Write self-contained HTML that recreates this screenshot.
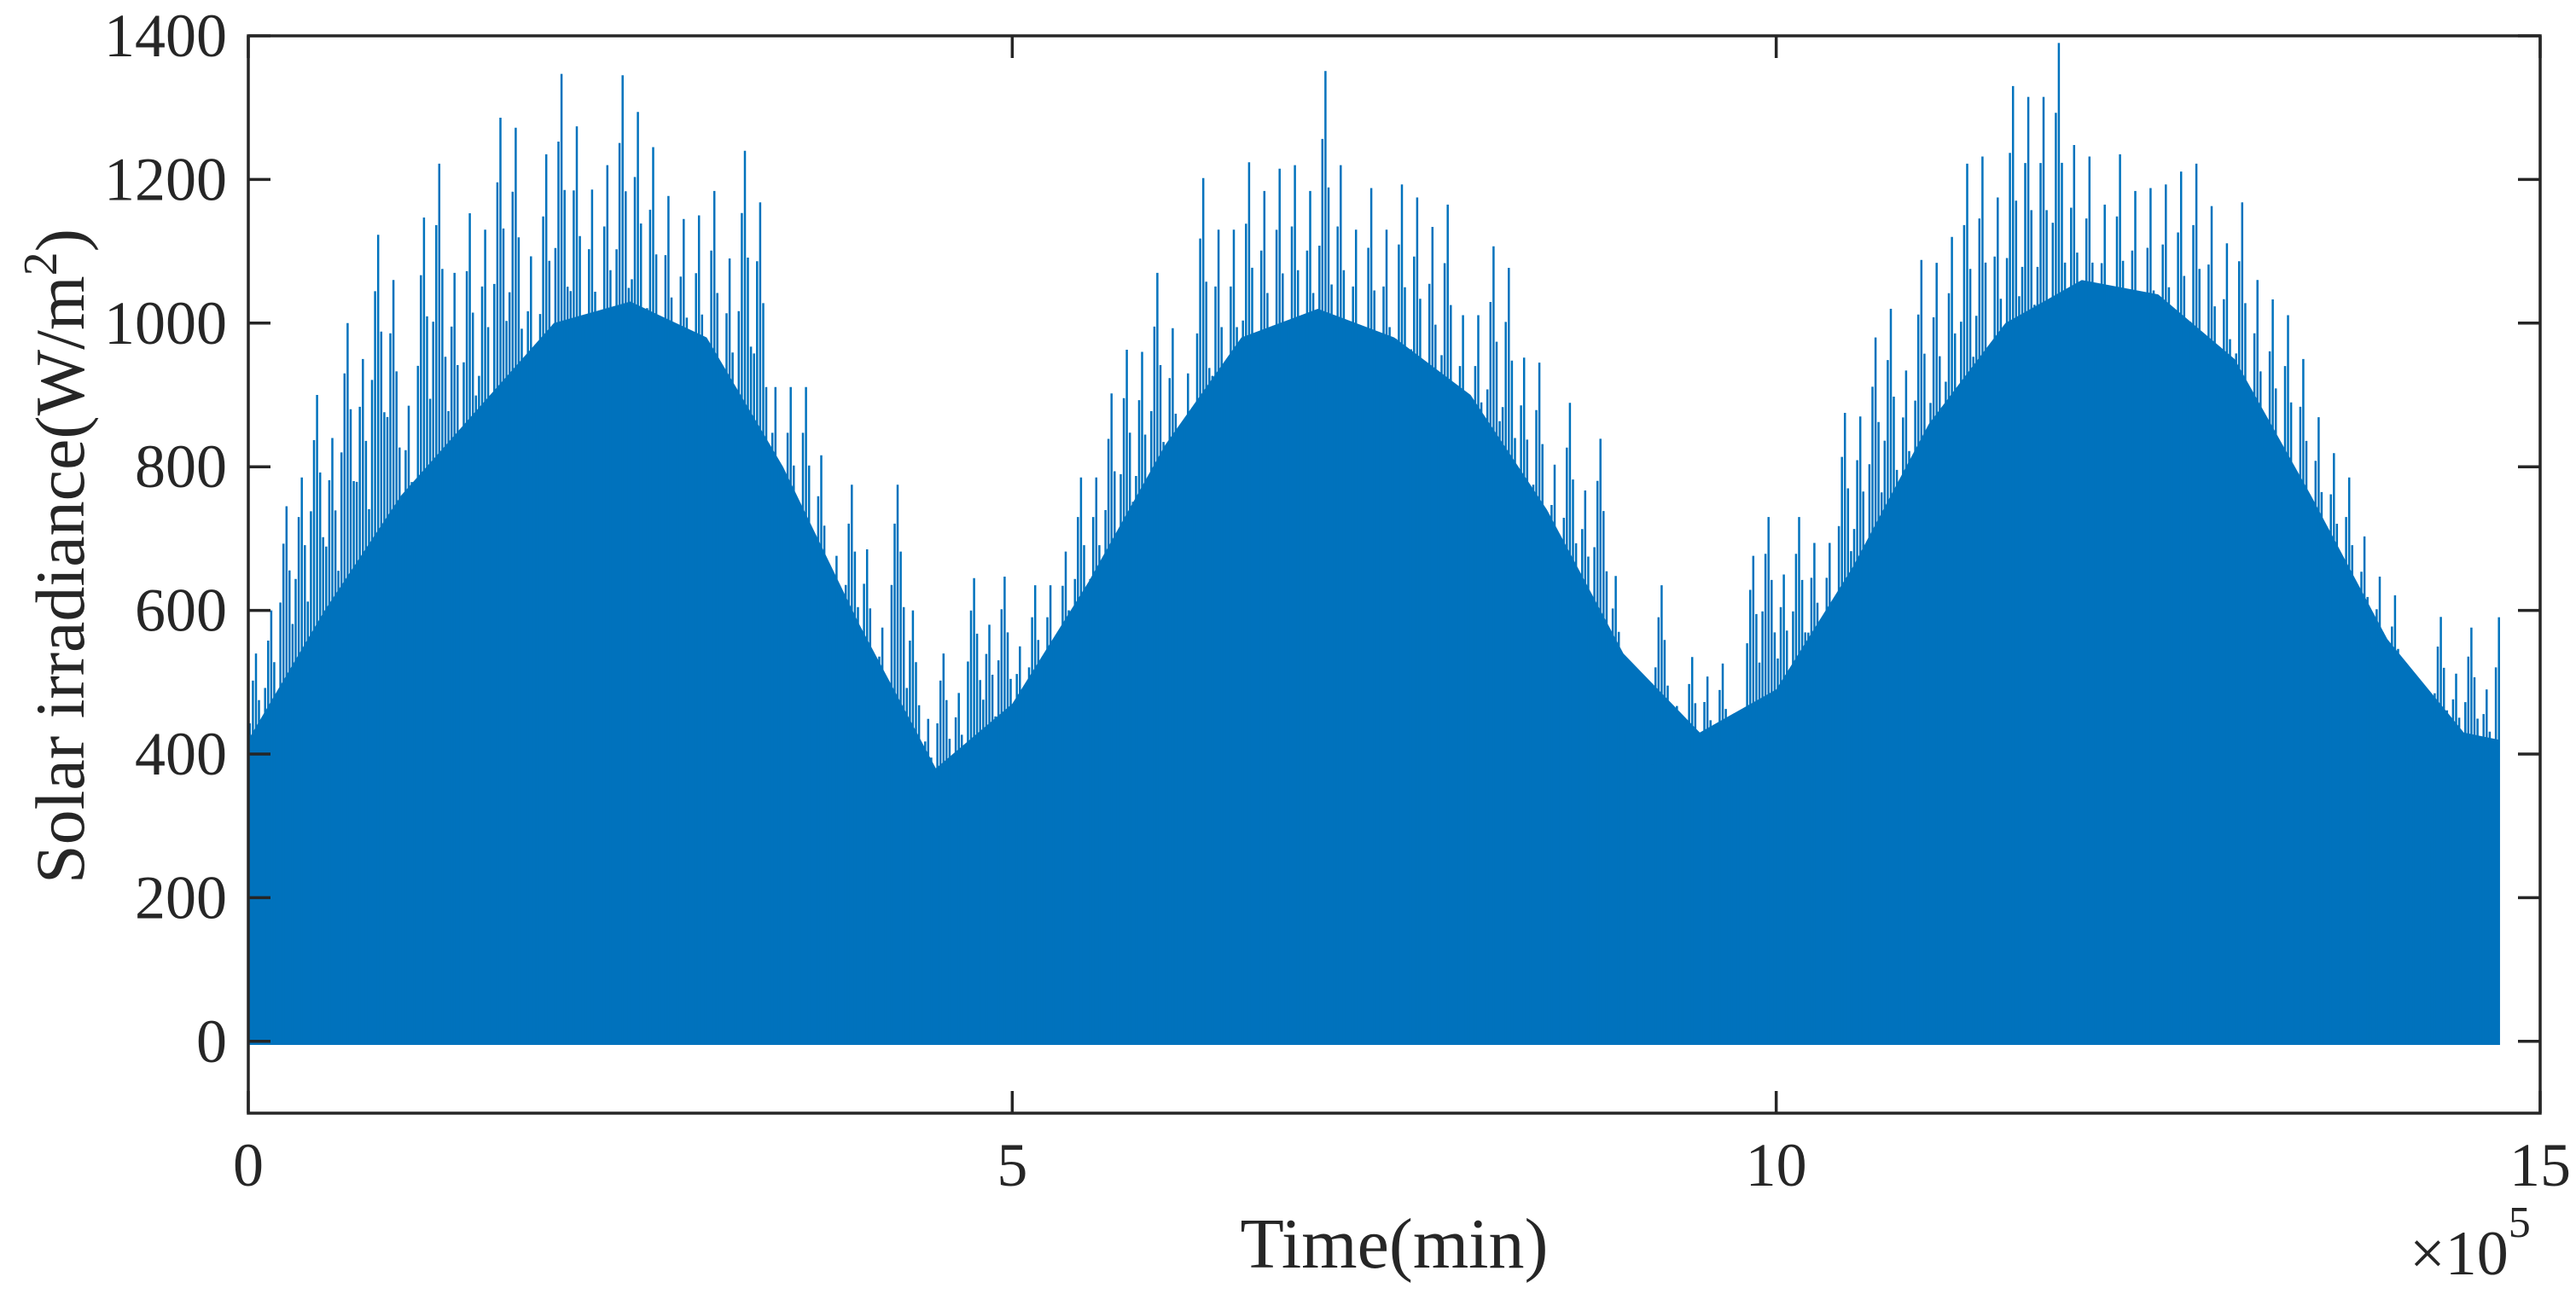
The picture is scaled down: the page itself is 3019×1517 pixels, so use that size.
<!DOCTYPE html>
<html><head><meta charset="utf-8"><style>
html,body{margin:0;padding:0;background:#fff;}
svg{display:block;font-family:"Liberation Serif","Times New Roman",serif;}
</style></head><body>
<svg id="chart" width="3019" height="1517" viewBox="0 0 3019 1517" xmlns="http://www.w3.org/2000/svg">
<rect x="0" y="0" width="3019" height="1517" fill="#fff"/>
<g id="series"></g>
<g id="axes"></g>
<text x="1634" y="1486" text-anchor="middle" font-size="84" fill="#262626">Time(min)</text>
<text transform="translate(98,652) rotate(-90)" text-anchor="middle" font-size="82" fill="#262626">Solar irradiance(W/m<tspan dy="-32" font-size="56">2</tspan><tspan dy="32">)</tspan></text>
<text x="2824" y="1494" font-size="74" fill="#262626">×10<tspan dy="-44" font-size="52">5</tspan></text>
</svg>
<script>
// x in units of 1e5 minutes; peaks per 0.1e5 bin
const xTicks = [0, 5, 10, 15];
const xTickLabels = ["0", "5", "10", "15"];
const yTicks = [0, 200, 400, 600, 800, 1000, 1200, 1400];
const yTickLabels = ["0", "200", "400", "600", "800", "1000", "1200", "1400"];
const binWidth = 0.1;
const peakValues = [540,600,745,785,900,840,1000,950,1123,1060,
 885,1147,1222,1070,1153,1130,1286,1272,1093,1235,
 1347,1274,1186,1220,1345,1294,1245,1177,1145,1150,
 1184,1090,1240,1168,911,911,911,816,676,775,
 685,576,775,600,449,540,485,645,580,647,
 550,635,635,682,785,785,902,963,960,1070,
 993,930,1202,1130,1130,1224,1184,1215,1220,1184,
 1351,1220,1130,1188,1130,1193,1175,1134,1165,1011,
 1011,1107,1077,952,945,803,889,767,839,648,
 521,494,635,467,535,508,526,440,676,730,
 650,730,694,694,875,870,980,1020,934,1088,
 1084,1120,1222,1232,1175,1330,1315,1315,1390,1248,
 1232,1165,1235,1184,1188,1193,1211,1222,1163,1111,
 1168,1060,1033,1011,950,869,819,785,703,647,
 621,458,358,591,512,576,490,635];
const envTimes = [0,0.5,1,1.5,2,2.5,3,3.5,4,4.5,5,5.5,6,6.5,7,7.5,8,8.5,9,9.5,10,10.5,11,11.5,12,12.5,13,13.5,14,14.5,14.73];
const envValues = [420,600,760,880,1000,1030,980,800,580,380,470,640,830,980,1020,980,900,740,540,430,490,660,860,1000,1060,1040,950,760,560,430,420];
const dataEnd = 14.73;

const L = 291, R = 2977, T = 42, B = 1305;
const xMin = 0, xMax = 15, yMin = -100, yMax = 1400;
function xs(v){ return L + (v - xMin) / (xMax - xMin) * (R - L); }
function ys(v){ return B - (v - yMin) / (yMax - yMin) * (B - T); }
const NS = "http://www.w3.org/2000/svg";
function mk(tag, attrs, parent){
  const e = document.createElementNS(NS, tag);
  for (const k in attrs) e.setAttribute(k, attrs[k]);
  parent.appendChild(e); return e;
}
const series = document.getElementById('series');
const axes = document.getElementById('axes');
const blue = "#0072BD";

let d = "M" + xs(0) + "," + ys(-5);
for (let i = 0; i < envTimes.length; i++) d += " L" + xs(envTimes[i]).toFixed(1) + "," + ys(envValues[i]).toFixed(1);
d += " L" + xs(dataEnd) + "," + ys(-5) + " Z";
const body = mk('path', {d: d, fill: blue}, series);



const spikeShape = [0.82, 0.93, 1, 0.88, 0.78];
for (let i = 0; i < peakValues.length; i++) {
  for (let k = 0; k < spikeShape.length; k++) {
    const tt = i * binWidth + binWidth * (0.1 + 0.2 * k);
    if (tt > dataEnd) break;
    const ln = mk('line', {x1: xs(tt).toFixed(1), x2: xs(tt).toFixed(1), y1: ys(-5), y2: ys(peakValues[i] * spikeShape[k]).toFixed(1), stroke: blue, 'stroke-width': 2.5}, series);
    
    
  }
}

const frame = mk('rect', {x: L, y: T, width: R - L, height: B - T, fill: 'none', stroke: '#262626', 'stroke-width': 3.5}, axes);



for (let i = 0; i < yTicks.length; i++) {
  const y = ys(yTicks[i]);
  const t1 = mk('line', {x1: L, x2: L + 26, y1: y, y2: y, stroke: '#262626', 'stroke-width': 3.5}, axes);
  
  
  const t2 = mk('line', {x1: R, x2: R - 26, y1: y, y2: y, stroke: '#262626', 'stroke-width': 3.5}, axes);
  
  
  const tx = mk('text', {x: 266, y: y + 24, 'text-anchor': 'end', 'font-size': 72, fill: '#262626'}, axes);
  tx.textContent = yTickLabels[i];
  
  
}
for (let i = 0; i < xTicks.length; i++) {
  const x = xs(xTicks[i]);
  const t1 = mk('line', {x1: x, x2: x, y1: B, y2: B - 26, stroke: '#262626', 'stroke-width': 3.5}, axes);
  
  
  const t2 = mk('line', {x1: x, x2: x, y1: T, y2: T + 26, stroke: '#262626', 'stroke-width': 3.5}, axes);
  
  
  const tx = mk('text', {x: x, y: 1390, 'text-anchor': 'middle', 'font-size': 72, fill: '#262626'}, axes);
  tx.textContent = xTickLabels[i];
  
  
}
</script>
</body></html>
